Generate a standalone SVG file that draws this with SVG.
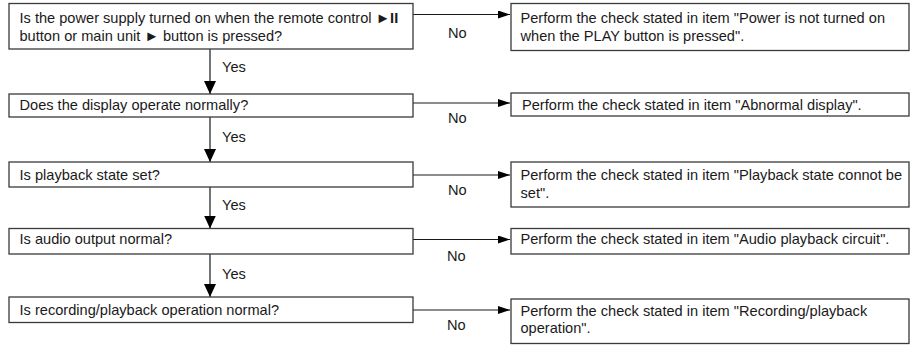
<svg xmlns="http://www.w3.org/2000/svg" width="911" height="347" viewBox="0 0 911 347">
<style>
  .box{fill:#fff;stroke:#3a3a3a;stroke-width:1.3}
  .t{font-family:"Liberation Sans",Arial,"DejaVu Sans",sans-serif;font-size:14.6px;fill:#1a1a1a}
  .ln{stroke:#1a1a1a;stroke-width:1.2;fill:none}
</style>
<defs>
  <marker id="ah" markerWidth="12" markerHeight="8" refX="12" refY="4" orient="auto" markerUnits="userSpaceOnUse"><path d="M0,0 L12,4 L0,8 z" fill="#000"/></marker>
  <marker id="av" markerWidth="13" markerHeight="12" refX="13" refY="6" orient="auto" markerUnits="userSpaceOnUse"><path d="M0,0 L13,6 L0,12 z" fill="#000"/></marker>
</defs>
<rect width="911" height="347" fill="#fff"/>
<g id="connectors">
  <line class="ln" x1="413" y1="14.5" x2="510" y2="14.5" marker-end="url(#ah)"/>
  <line class="ln" x1="413" y1="103" x2="510" y2="103" marker-end="url(#ah)"/>
  <line class="ln" x1="413" y1="175" x2="510" y2="175" marker-end="url(#ah)"/>
  <line class="ln" x1="413" y1="239.5" x2="510" y2="239.5" marker-end="url(#ah)"/>
  <line class="ln" x1="413" y1="310" x2="510" y2="310" marker-end="url(#ah)"/>
  <line class="ln" x1="210" y1="49" x2="210" y2="94" marker-end="url(#av)"/>
  <line class="ln" x1="210" y1="117" x2="210" y2="162" marker-end="url(#av)"/>
  <line class="ln" x1="210" y1="187" x2="210" y2="228.5" marker-end="url(#av)"/>
  <line class="ln" x1="210" y1="254" x2="210" y2="297" marker-end="url(#av)"/>
  <text class="t" x="448" y="37.5">No</text>
  <text class="t" x="448" y="123">No</text>
  <text class="t" x="448" y="194.5">No</text>
  <text class="t" x="447" y="260.5">No</text>
  <text class="t" x="447" y="330">No</text>
  <text class="t" x="222" y="72">Yes</text>
  <text class="t" x="222" y="142">Yes</text>
  <text class="t" x="222" y="210">Yes</text>
  <text class="t" x="222" y="279">Yes</text>
</g>
<g id="q1">
  <rect class="box" x="9" y="3.5" width="404" height="45.5"/>
  <text class="t" x="19.5" y="23">Is the power supply turned on when the remote control ►<tspan font-weight="bold">II</tspan></text>
  <text class="t" x="19.5" y="40.5">button or main unit ► button is pressed?</text>
</g>
<g id="a1">
  <rect class="box" x="511" y="3.5" width="398" height="47"/>
  <text class="t" x="520.5" y="23">Perform the check stated in item "Power is not turned on</text>
  <text class="t" x="520.5" y="40.5">when the PLAY button is pressed".</text>
</g>
<g id="q2">
  <rect class="box" x="9" y="94" width="404" height="23"/>
  <text class="t" x="19.5" y="110">Does the display operate normally?</text>
</g>
<g id="a2">
  <rect class="box" x="511" y="93" width="398" height="23"/>
  <text class="t" x="522" y="109.5">Perform the check stated in item "Abnormal display".</text>
</g>
<g id="q3">
  <rect class="box" x="9" y="162" width="404" height="25"/>
  <text class="t" x="19.5" y="180">Is playback state set?</text>
</g>
<g id="a3">
  <rect class="box" x="511" y="162" width="398" height="45"/>
  <text class="t" x="520.5" y="180">Perform the check stated in item "Playback state connot be</text>
  <text class="t" x="520.5" y="197.5">set".</text>
</g>
<g id="q4">
  <rect class="box" x="9" y="228.5" width="404" height="25.5"/>
  <text class="t" x="19.5" y="244">Is audio output normal?</text>
</g>
<g id="a4">
  <rect class="box" x="511" y="228.5" width="398" height="25.5"/>
  <text class="t" x="520.5" y="244">Perform the check stated in item "Audio playback circuit".</text>
</g>
<g id="q5">
  <rect class="box" x="9" y="297" width="404" height="25.5"/>
  <text class="t" x="19.5" y="314.5">Is recording/playback operation normal?</text>
</g>
<g id="a5">
  <rect class="box" x="511" y="299" width="398" height="44.5"/>
  <text class="t" x="520.5" y="315.5">Perform the check stated in item "Recording/playback</text>
  <text class="t" x="520.5" y="333">operation".</text>
</g>
</svg>
